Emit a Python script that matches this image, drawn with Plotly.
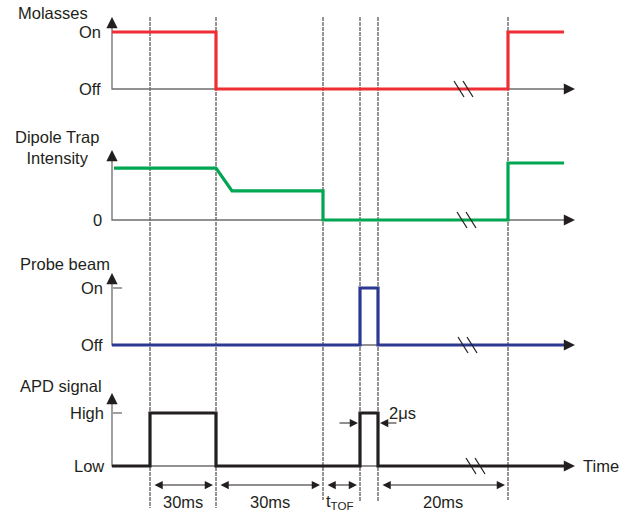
import plotly.graph_objects as go

# ---------------- data (schematic diagram units) ----------------
row_names = ["Molasses", "Dipole Trap<br>Intensity", "Probe beam", "APD signal"]
low_labels = ["Off", "0", "Off", "Low"]
high_labels = ["On", "", "On", "High"]

event_t = [150, 216, 323, 360, 378, 508]          # dashed marker times
molasses_t = [112, 216, 216, 508, 508, 564]
molasses_lv = [1, 1, 0, 0, 1, 1]
dipole_t = [114, 216, 232, 323, 323, 508, 508, 564]
dipole_lv = [0.91, 0.91, 0.51, 0.51, 0, 0, 1.0, 1.0]
probe_t = [112, 360, 360, 378, 378, 566]
probe_lv = [0, 0, 1, 1, 0, 0]
apd_t = [112, 150, 150, 216, 216, 360, 360, 378, 378, 566]
apd_lv = [0, 0, 1, 1, 0, 0, 1, 1, 0, 0]

interval_start = [150, 216, 323, 378]
interval_end = [216, 323, 360, 508]
interval_labels = ["30ms", "30ms", "t<sub>TOF</sub>", "20ms"]
pulse_label = "2\u03bcs"

# ---------------- layout geometry ----------------
W, H = 619, 517
row_base = [89, 220, 345, 466]
row_amp = [57, 57, 57, 53]
axis_x0, axis_x1 = 112, 572
axis_top = [17, 150, 273, 393]
break_x = [454, 457, 458, 466]
colors = ["#EE2E33", "#00A651", "#2B3990", "#231F20"]
FONT = "Liberation Sans, Arial, Helvetica, sans-serif"
TXT = "#231F20"
AX = "#6d6d6d"

def ypix(row, lv):
    return [row_base[row] - v * row_amp[row] for v in lv]

fig = go.Figure()

# dashed vertical event lines
vbottom = [508, 508, 500, 502, 502, 500]
for t, b in zip(event_t, vbottom):
    fig.add_trace(go.Scatter(x=[t, t], y=[17, b], mode="lines",
                             line=dict(color="#2a2a2a", width=1, dash="4px,1px"),
                             hoverinfo="skip", showlegend=False))

# axes (grey lines)
for r in range(4):
    fig.add_trace(go.Scatter(x=[axis_x0, axis_x0, axis_x1],
                             y=[axis_top[r] + 6, row_base[r], row_base[r]],
                             mode="lines", line=dict(color=AX, width=1.3),
                             hoverinfo="skip", showlegend=False))

# tick marks for probe On / APD High
for r in (2, 3):
    yt = row_base[r] - row_amp[r]
    fig.add_trace(go.Scatter(x=[113, 122], y=[yt, yt], mode="lines",
                             line=dict(color=AX, width=1.3),
                             hoverinfo="skip", showlegend=False))

# signals
sig = [(molasses_t, molasses_lv), (dipole_t, dipole_lv), (probe_t, probe_lv), (apd_t, apd_lv)]
for r, (tt, lv) in enumerate(sig):
    fig.add_trace(go.Scatter(x=tt, y=ypix(r, lv), mode="lines",
                             line=dict(color=colors[r], width=3.2, shape="linear"),
                             hoverinfo="skip", showlegend=False))

# break marks //
for r in range(4):
    b = row_base[r]
    bx = break_x[r]
    for dx in (0, 9):
        fig.add_trace(go.Scatter(x=[bx + dx, bx + dx + 10], y=[b - 8, b + 8], mode="lines",
                                 line=dict(color="#231F20", width=1.2),
                                 hoverinfo="skip", showlegend=False))

ann = []
# axis arrowheads
for r in range(4):
    ann.append(dict(x=axis_x0, y=axis_top[r], ax=axis_x0, ay=axis_top[r] + 9,
                    xref="x", yref="y", axref="x", ayref="y", text="",
                    showarrow=True, arrowhead=2, arrowsize=1.6, arrowwidth=1.4,
                    arrowcolor="#231F20"))
    ann.append(dict(x=axis_x1 + 3, y=row_base[r], ax=axis_x1 - 8, ay=row_base[r],
                    xref="x", yref="y", axref="x", ayref="y", text="",
                    showarrow=True, arrowhead=2, arrowsize=1.6, arrowwidth=1.4,
                    arrowcolor="#231F20"))

# row titles
title_pos = [(53, 13), (57, 147), (65, 264), (61, 386)]
for name, (tx, ty) in zip(row_names, title_pos):
    ann.append(dict(x=tx, y=ty, xref="x", yref="y", text=name, showarrow=False,
                    font=dict(family=FONT, size=16.5, color=TXT), xanchor="center",
                    yanchor="middle", align="center"))

# level labels
lab_right = [103, 104, 105, 106]
for r in range(4):
    ann.append(dict(x=lab_right[r], y=row_base[r], xref="x", yref="y", text=low_labels[r],
                    showarrow=False, font=dict(family=FONT, size=16.5, color=TXT),
                    xanchor="right", yanchor="middle"))
    if high_labels[r]:
        ann.append(dict(x=lab_right[r], y=row_base[r] - row_amp[r], xref="x", yref="y",
                        text=high_labels[r], showarrow=False,
                        font=dict(family=FONT, size=16.5, color=TXT),
                        xanchor="right", yanchor="middle"))

# Time label
ann.append(dict(x=581, y=row_base[3], xref="x", yref="y", text="Time", showarrow=False,
                font=dict(family=FONT, size=16.5, color=TXT), xanchor="left", yanchor="middle"))

# interval dimension arrows and labels
dim_y = 485
for s, e, lab in zip(interval_start, interval_end, interval_labels):
    ann.append(dict(x=e - 3, y=dim_y, ax=s + 3, ay=dim_y, xref="x", yref="y", axref="x",
                    ayref="y", text="", showarrow=True, arrowhead=2, arrowside="end+start",
                    arrowsize=1.5, arrowwidth=1.1, arrowcolor="#231F20"))
    ann.append(dict(x=(s + e) / 2 + (-2 if "TOF" in lab else 0), y=502, xref="x", yref="y",
                    text=lab, showarrow=False,
                    font=dict(family=FONT, size=16.5, color=TXT), xanchor="center",
                    yanchor="middle"))

# 2 us pulse-width arrows
ann.append(dict(x=358, y=423, ax=338, ay=423, xref="x", yref="y", axref="x", ayref="y",
                text="", showarrow=True, arrowhead=2, arrowsize=1.5, arrowwidth=1.1,
                arrowcolor="#231F20"))
ann.append(dict(x=380, y=423, ax=398, ay=423, xref="x", yref="y", axref="x", ayref="y",
                text="", showarrow=True, arrowhead=2, arrowsize=1.5, arrowwidth=1.1,
                arrowcolor="#231F20"))
ann.append(dict(x=387, y=413, xref="x", yref="y", text=pulse_label, showarrow=False,
                font=dict(family=FONT, size=16.5, color=TXT), xanchor="left", yanchor="middle"))

fig.update_layout(
    width=W, height=H, margin=dict(l=0, r=0, t=0, b=0),
    paper_bgcolor="white", plot_bgcolor="white",
    xaxis=dict(range=[0, W], visible=False, fixedrange=True),
    yaxis=dict(range=[H, 0], visible=False, fixedrange=True),
    annotations=ann, showlegend=False,
)
fig.write_html("out.html", config={"displayModeBar": False},
               post_script="document.body.style.margin='0';document.body.style.overflow='hidden';")
